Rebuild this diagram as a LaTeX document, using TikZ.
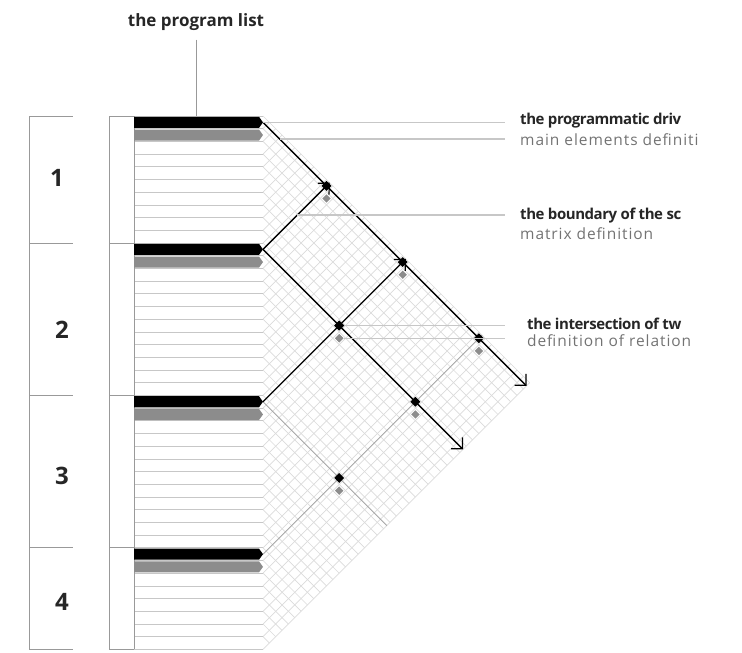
\documentclass[tikz,border=0pt]{standalone}
\usepackage{fontspec}
\setmainfont{Open Sans}
\newfontfamily\headfont[LetterSpace=-3]{Open Sans}
\newfontfamily\notefont[LetterSpace=6]{Open Sans}
\usetikzlibrary{arrows.meta, shapes.geometric, calc}

\def\xo{263}   % tip of the bars
\def\yt{116}   % top of the list
\def\rh{12.7}  % row height

\begin{document}
\begin{tikzpicture}[
    x=1pt, y=-1pt,
    hatch/.style={draw=black!14, line width=0.7pt},
    rowline/.style={draw=black!22, line width=0.8pt},
    bracket/.style={draw=black!40, line width=1pt},
    leader/.style={draw=black!22, line width=1.5pt},
    relline/.style={draw=black, line width=1.3pt},
    weakline/.style={draw=black!35, line width=0.9pt},
    endarrow/.style={-{Straight Barb[length=8pt,width=16pt,line width=1.2pt]}},
    dmain/.style={diamond, fill=black, inner sep=0pt, minimum size=10pt},
    ddef/.style={diamond, fill=black!45, inner sep=0pt, minimum size=8.5pt},
    lblhead/.style={font=\headfont\bfseries\fontsize{15}{17}\selectfont, text=black!85, anchor=west, inner sep=0pt},
    lblsub/.style={font=\notefont\fontsize{15.5}{17}\selectfont, text=black!55, anchor=west, inner sep=0pt},
    lbltop/.style={font=\bfseries\fontsize{17}{19}\selectfont, text=black!85, inner sep=0pt},
    grpnum/.style={font=\bfseries\fontsize{24}{28}\selectfont, text=black!85},
]
\useasboundingbox (0,0) rectangle (742,653);

% crosshatch of the relation matrix
\foreach \k in {0,...,42} {
    \pgfmathsetmacro\yy{\yt+\k*\rh}
    \pgfmathsetmacro\dn{(\yt+42*\rh-\yy)/2}
    \pgfmathsetmacro\up{(\yy-\yt)/2}
    \draw[hatch] (\xo,\yy) -- ++(\dn,\dn);
    \draw[hatch] (\xo,\yy) -- ++(\up,-\up);
}

% rows of the list
\foreach \k in {0,...,42}
    \draw[rowline] (134,{\yt+\k*\rh}) -- (\xo,{\yt+\k*\rh});

% brackets and groups
\draw[bracket] (29,\yt) -- (29,{\yt+42*\rh});
\draw[bracket] (109,\yt) -- (109,{\yt+42*\rh});
\draw[bracket] (134,\yt) -- (134,{\yt+42*\rh});
\foreach \k in {0,10,22,34,42} {
    \draw[bracket] (29,{\yt+\k*\rh}) -- (73,{\yt+\k*\rh});
    \draw[bracket] (109,{\yt+\k*\rh}) -- (134,{\yt+\k*\rh});
}
\foreach \k [count=\g] in {0,10,22,34} {
    \pgfmathsetmacro\yy{\yt+\k*\rh}
    \fill[black] (134,\yy+0.8) -- (\xo-4,\yy+0.8) -- (\xo,\yy+6.35) -- (\xo-4,\yy+11.9) -- (134,\yy+11.9) -- cycle;
    \fill[black!45] (134,\yy+13.5) -- (\xo-4,\yy+13.5) -- (\xo,\yy+19.05) -- (\xo-4,\yy+24.6) -- (134,\yy+24.6) -- cycle;
    \coordinate (g\g) at (\xo,\yy+6.35);
}
\node[grpnum] (n1) at (57,178) {1};
\node[grpnum] (n2) at (62,330) {2};
\node[grpnum] (n3) at (62,476) {3};
\node[grpnum] (n4) at (62,602) {4};

% ends of the relation lines
\coordinate (dn1) at (526.5,385.9);
\coordinate (dn2) at (463,449.4);
\coordinate (dn3) at (386.8,525.6);
\coordinate (up2) at (329.7,182.7);
\coordinate (up3) at (405.9,258.9);
\coordinate (up4) at (482.1,335.1);

\draw[weakline] (g3) -- (dn3);
\draw[weakline] (g4) -- (up4);
\draw[relline, endarrow] (g1) -- (dn1);
\draw[relline, endarrow] (g2) -- (dn2);
\draw[relline, endarrow] (g2) -- (up2);
\draw[relline, endarrow] (g3) -- (up3);

% leaders to the notes
\coordinate (lend) at (505,0);
\coordinate (c2) at (280,139);
\coordinate (c3) at (297.4,215);
\node[lbltop] (plist) at (196,22) {the program list};
\coordinate (ltop) at (196,\yt);
\draw[bracket, shorten <=9pt] (plist.south) -- (ltop);

\foreach \a/\b in {1/2,1/3,2/3,1/4,2/4,3/4} {
    \path let \p1=(g\a), \p2=(g\b) in
        node[dmain] (d\a\b) at ({\x1+(\y1-\y2)/2}, {(\y1+\y2)/2}) {};
    \node[ddef] (s\a\b) at ($(d\a\b)+(0,\rh)$) {};
}

\draw[leader] (g1) -- (g1 -| lend);
\draw[leader] (c2) -- (c2 -| lend);
\draw[leader] (c3) -- (c3 -| lend);
\draw[leader] (d23) -- (d23 -| lend);
\draw[leader] (s23) -- (s23 -| lend);
\node[dmain] at (d23) {};
\node[ddef] at (s23) {};

\begin{scope}
\clip (0,0) rectangle (708,653);
\node[lblhead] (t1) at (520,121) {the programmatic driv};
\node[lblsub]  (u1) at (520,140) {main elements definiti};
\node[lblhead] (t2) at (520,216) {the boundary of the sc};
\node[lblsub]  (u2) at (520,234) {matrix definition};
\node[lblhead] (t3) at (527,324) {the intersection of tw};
\node[lblsub]  (u3) at (527,341) {definition of relation};
\end{scope}
\end{tikzpicture}
\end{document}
